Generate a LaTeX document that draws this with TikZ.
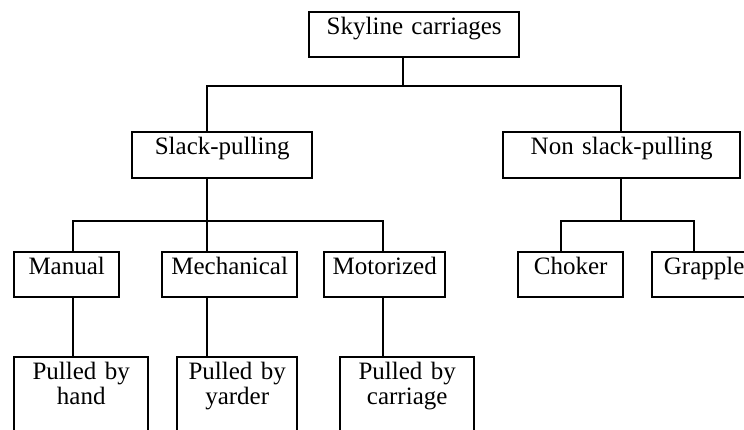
\documentclass[tikz,border=0pt]{standalone}
\usepackage{fontspec}
\setmainfont{Liberation Serif}
\begin{document}
\begin{tikzpicture}[x=1pt,y=-1pt,
  box/.style={draw, line width=2.4pt, inner sep=0pt, align=center, anchor=north west,
    text height=22pt, font=\fontsize{25}{25}\selectfont},
  conn/.style={line width=2.4pt, line cap=rect, line join=miter}]
\useasboundingbox (0,0) rectangle (744,429);
\clip (0,0) rectangle (744,429);
% level 0
\node[box, text width=210pt, text depth=23pt] (sky) at (308,11) {Skyline carriages};
% level 1
\node[box, text width=180pt, text depth=24pt] (slack) at (131,131) {Slack-pulling};
\node[box, text width=237pt, text depth=24pt] (nonslack) at (502,131) {Non slack-pulling};
% level 2
\node[box, text width=105pt, text depth=23pt] (manual) at (13,251) {Manual};
\node[box, text width=135pt, text depth=23pt] (mech) at (161,251) {Mechanical};
\node[box, text width=121pt, text depth=23pt] (motor) at (323,251) {Motorized};
\node[box, text width=105pt, text depth=23pt] (choker) at (517,251) {Choker};
\node[box, text width=104pt, text depth=23pt] (grapple) at (651,251) {Grapple};
% level 3
\node[box, text width=134pt, text depth=80pt] (hand) at (13,356) {Pulled by\\hand};
\node[box, text width=120pt, text depth=80pt] (yarder) at (176,356) {Pulled by\\yarder};
\node[box, text width=134pt, text depth=80pt] (carriage) at (339,356) {Pulled by\\carriage};
% junction coordinates
\coordinate (j0) at (403,86);
\coordinate (a0) at (207,86);
\coordinate (b0) at (621,86);
\coordinate (j1) at (207,221);
\coordinate (a1) at (73,221);
\coordinate (c1) at (383,221);
\coordinate (j2) at (621,221);
\coordinate (a2) at (561,221);
\coordinate (b2) at (694,221);
% connectors
\draw[conn] (sky.south -| j0) -- (j0);
\draw[conn] (slack.north -| a0) -- (a0) -- (b0) -- (nonslack.north -| b0);
\draw[conn] (slack.south -| j1) -- (j1);
\draw[conn] (manual.north -| a1) -- (a1) -- (c1) -- (motor.north -| c1);
\draw[conn] (j1) -- (mech.north -| j1);
\draw[conn] (nonslack.south -| j2) -- (j2);
\draw[conn] (choker.north -| a2) -- (a2) -- (b2) -- (grapple.north -| b2);
\draw[conn] (manual.south -| a1) -- (hand.north -| a1);
\draw[conn] (mech.south -| j1) -- (yarder.north -| j1);
\draw[conn] (motor.south -| c1) -- (carriage.north -| c1);
\end{tikzpicture}
\end{document}
